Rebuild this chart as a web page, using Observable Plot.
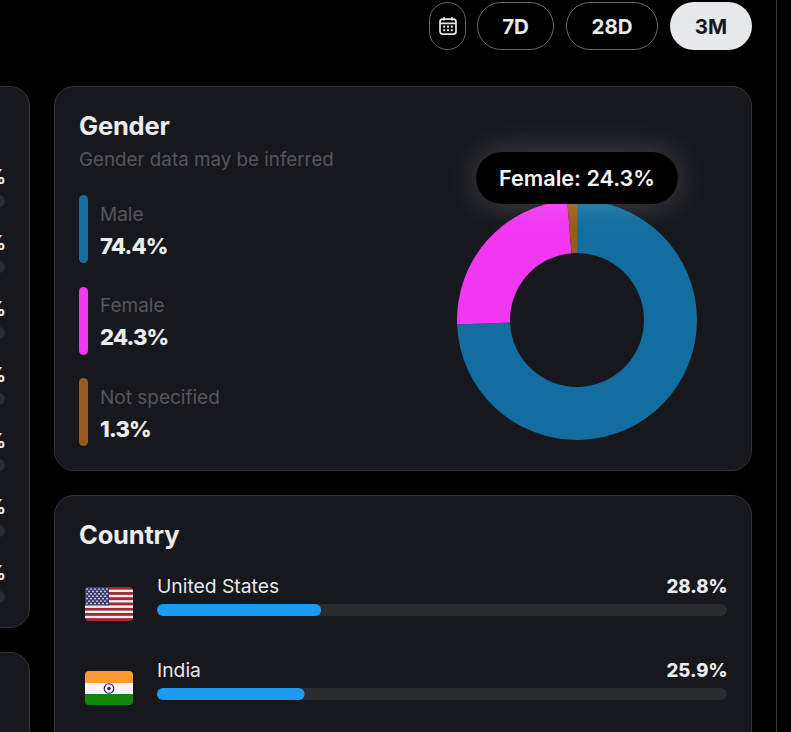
<!DOCTYPE html>
<html>
<head>
<meta charset="utf-8">
<script src="https://cdn.jsdelivr.net/npm/d3@7"></script>
<script src="https://cdn.jsdelivr.net/npm/@observablehq/plot@0.6"></script>
<style>
html,body{margin:0;padding:0;background:#000;width:791px;height:732px;overflow:hidden;font-family:Inter,"Noto Sans",sans-serif;}
#page{position:relative;width:791px;height:732px;overflow:hidden;}
.abs{position:absolute;box-sizing:border-box;}
.card{position:absolute;box-sizing:border-box;background:#17181d;border:1px solid #343539;border-radius:20px;}
.btn{position:absolute;box-sizing:border-box;top:2px;height:48px;border:1px solid #65666a;border-radius:24px;color:#e9e9e9;font-weight:700;font-size:20.5px;display:flex;align-items:center;justify-content:center;}
.txt{position:absolute;white-space:nowrap;line-height:1;}
svg{display:block;}
</style>
</head>
<body>
<div id="page"></div>
<script>
const genderLabels = ["Male", "Female", "Not specified"];
const genderValues = [74.4, 24.3, 1.3];
const genderColors = ["#116e9e", "#f237f2", "#9a5a1d"];
const countryNames = ["United States", "India"];
const countryValues = [28.8, 25.9];
const rangeButtons = ["7D", "28D", "3M"];
const hiddenRows = ["%", "%", "%", "%", "%", "%", "%"];

const page = document.getElementById("page");
function add(cls, style, text) {
  const el = document.createElement("div");
  el.className = cls;
  Object.assign(el.style, style);
  if (text != null) el.textContent = text;
  page.appendChild(el);
  return el;
}

// Page frame
add("abs", {left: "776px", top: 0, width: "1px", height: "732px", background: "#3a3b3e"});
add("card", {left: "-100px", top: "86px", width: "130px", height: "542px"});
add("card", {left: "-100px", top: "652px", width: "130px", height: "200px"});
add("card", {left: "54px", top: "86px", width: "698px", height: "385px"});
add("card", {left: "54px", top: "495px", width: "698px", height: "400px"});

// Clipped rows of the neighbouring card
hiddenRows.forEach((t, i) => {
  add("txt", {right: "785px", top: `${167 + 66 * i}px`, fontSize: "20px", fontWeight: 700, color: "#ececec"}, t);
  add("abs", {left: "-20px", top: `${195 + 66 * i}px`, width: "25px", height: "12px", borderRadius: "6px", background: "#2a2d30"});
});

// Range buttons
const cal = add("btn", {left: "429px", width: "37px"});
cal.innerHTML = `<svg width="20" height="20" viewBox="0 0 20 20" fill="none" stroke="#e9e9e9" stroke-width="1.7">
<rect x="2" y="3.2" width="16" height="15" rx="2.6"/>
<path d="M2.2 7.4H17.8M6 1.3V4.4M14 1.3V4.4"/>
<g fill="#e9e9e9" stroke="none"><rect x="5.2" y="9.6" width="2" height="2"/><rect x="9" y="9.6" width="2" height="2"/><rect x="12.8" y="9.6" width="2" height="2"/><rect x="5.2" y="13.2" width="2" height="2"/><rect x="9" y="13.2" width="2" height="2"/><rect x="12.8" y="13.2" width="2" height="2"/></g></svg>`;
add("btn", {left: "477px", width: "77px"}, rangeButtons[0]);
add("btn", {left: "566px", width: "92px"}, rangeButtons[1]);
add("btn", {left: "670px", width: "82px", background: "#e6e9ea", border: "none", color: "#17181d"}, rangeButtons[2]);

// Gender card text
add("txt", {left: "79px", top: "113px", fontSize: "25.5px", fontWeight: 700, letterSpacing: "-.2px", color: "#ececed"}, "Gender");
add("txt", {left: "79px", top: "151px", fontSize: "18.8px", fontWeight: 400, color: "#55565b"}, "Gender data may be inferred");
genderLabels.forEach((label, i) => {
  const pill = [195, 287, 378][i];
  const text = [205, 296, 388][i];
  add("abs", {left: "79px", top: `${pill}px`, width: "9px", height: "68px", borderRadius: "4.5px", background: genderColors[i]});
  add("txt", {left: "100px", top: `${text}px`, fontSize: "19px", color: "#55565b"}, label);
  add("txt", {left: "100px", top: `${text + 30}px`, fontSize: "22px", fontWeight: 800, letterSpacing: "-.8px", color: "#ececed"}, genderValues[i].toFixed(1) + "%");
});

// Donut
const slices = d3.pie().sort(null).value(d => d.value)(
  genderLabels.map((label, i) => ({label, value: genderValues[i]}))
);
const donut = Plot.plot({
  width: 240, height: 240, margin: 0,
  x: {domain: [-120, 120], axis: null},
  y: {domain: [-120, 120], axis: null},
  color: {domain: genderLabels, range: genderColors},
  style: {background: "transparent"},
  marks: [
    Plot.dot(slices, {
      x: () => 0, y: () => 0, fill: d => d.data.label,
      render(index, scales, values) {
        const g = d3.create("svg:g");
        const outer = scales.x(120) - scales.x(0);
        const arc = d3.arc().innerRadius(outer * 67 / 120).outerRadius(outer);
        for (const i of index) {
          g.append("path")
            .attr("transform", `translate(${values.x[i]},${values.y[i]})`)
            .attr("d", arc(slices[i]))
            .attr("fill", values.fill[i]);
        }
        return g.node();
      }
    })
  ]
});
donut.style.position = "absolute";
donut.style.left = "457px";
donut.style.top = "200px";
page.appendChild(donut);

// Tooltip
const tip = add("abs", {left: "476px", top: "152px", width: "202px", height: "52px", borderRadius: "26px", background: "#000",
  boxShadow: "0 0 34px rgba(255,255,255,0.2)", color: "#f4f4f4", fontSize: "21.6px", fontWeight: 600,
  display: "flex", alignItems: "center", justifyContent: "center"}, `${genderLabels[1]}: ${genderValues[1]}%`);

// Country card
add("txt", {left: "79px", top: "522px", fontSize: "25.5px", fontWeight: 700, letterSpacing: "-.2px", color: "#ececed"}, "Country");

const countries = countryNames.map((name, i) => ({name, value: countryValues[i]}));
const bars = Plot.plot({
  width: 570, height: 172, margin: 0,
  x: {domain: [0, 100], range: [0, 570], axis: null},
  y: {type: "band", domain: countryNames, range: [44, 140], paddingInner: 72 / 84, paddingOuter: 0, axis: null},
  style: {background: "transparent", overflow: "visible"},
  marks: [
    Plot.barX(countries, {x: () => 100, y: "name", fill: "#2a2d30", rx: 6}),
    Plot.barX(countries, {x: "value", y: "name", fill: "#1d9bf0", rx: 6}),
    Plot.text(countries, {x: () => 0, y: "name", text: "name", textAnchor: "start", dx: -0.5, dy: -24, fontSize: 19.3, fill: "#e7e9ea", fontFamily: "Inter"}),
    Plot.text(countries, {x: () => 100, y: "name", text: d => d.value.toFixed(1) + "%", textAnchor: "end", dy: -23.5, fontSize: 18.5, fontWeight: 800, letterSpacing: "-.3px", fill: "#ececed", fontFamily: "Inter"})
  ]
});
bars.style.position = "absolute";
bars.style.left = "157px";
bars.style.top = "560px";
page.appendChild(bars);

// Flags
const stripes = d3.range(13).map(i =>
  `<rect x="0" y="${i * 34 / 13}" width="48" height="${34 / 13 + .1}" fill="${i % 2 ? "#eeeeee" : "#b22234"}"/>`).join("");
let stars = "";
for (let r = 0; r < 7; r++) for (let c = 0; c < (r % 2 ? 5 : 6); c++)
  stars += `<circle cx="${(r % 2 ? 4 : 2) + c * 4}" cy="${2 + r * 2.4}" r=".85" fill="#eeeef4"/>`;
const usFlag = add("abs", {left: "85px", top: "587px", width: "48px", height: "34px", borderRadius: "4px", overflow: "hidden"});
usFlag.innerHTML = `<svg width="48" height="34">${stripes}<rect width="24" height="18.3" fill="#3c3b6e"/>${stars}</svg>`;
const inFlag = add("abs", {left: "85px", top: "671px", width: "48px", height: "34px", borderRadius: "4px", overflow: "hidden"});
inFlag.innerHTML = `<svg width="48" height="34"><rect width="48" height="12" fill="#ff9933"/><rect y="12" width="48" height="11" fill="#f7f7f7"/><rect y="23" width="48" height="11" fill="#138808"/>
<circle cx="24" cy="17.5" r="4.8" fill="none" stroke="#20208a" stroke-width="1.1"/><circle cx="24" cy="17.5" r="1.7" fill="#20208a"/></svg>`;
</script>
</body>
</html>
